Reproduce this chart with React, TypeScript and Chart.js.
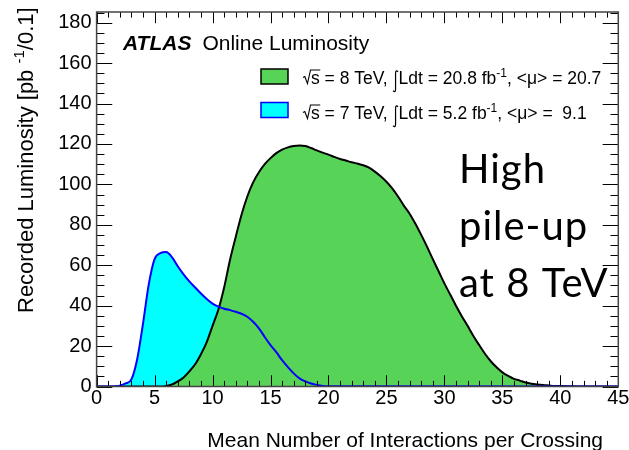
import React, { useEffect, useRef } from "react";
import { Chart, registerables } from "chart.js";

Chart.register(...registerables);

// Recorded luminosity per 0.1 bin of mean pile-up, sampled along each curve
const mu7 = [0, 1.5, 2, 2.5, 3, 3.5, 4, 4.5, 5, 5.5, 6, 6.5, 7, 7.5, 8, 8.5, 9, 9.5, 10, 10.5, 11, 11.5, 12, 12.5, 13, 13.5, 14, 14.5, 15, 15.5, 16, 16.5, 17, 17.5, 18, 18.5, 19, 19.5, 20, 45];
const lumi7 = [0, 0, 0.4, 1.5, 3.5, 13.5, 31, 50.5, 63, 66, 66.5, 64, 59.5, 55.5, 52, 49, 46, 43.3, 41, 39.5, 38.5, 37.8, 37, 36, 34.5, 32, 28.8, 24.5, 20.5, 17, 13, 9.6, 6.5, 4, 2.5, 1.5, 0.8, 0.3, 0.1, 0];

const mu8 = [0, 5.5, 6, 6.5, 7, 7.5, 8, 8.5, 9, 9.5, 10, 10.5, 11, 11.5, 12, 12.5, 13, 13.5, 14, 14.5, 15, 15.5, 16, 16.5, 17, 17.5, 18, 18.5, 19, 19.5, 20, 20.5, 21, 21.5, 22, 22.5, 23, 23.5, 24, 24.5, 25, 25.5, 26, 26.5, 27, 27.5, 28, 28.5, 29, 29.5, 30, 30.5, 31, 31.5, 32, 32.5, 33, 33.5, 34, 34.5, 35, 35.5, 36, 36.5, 37, 37.5, 38, 38.5, 39, 39.5, 40, 41, 42, 45];
const lumi8 = [0, 0, 0.3, 1, 2.5, 4.5, 7.5, 11, 16, 22, 30, 38, 49, 62.5, 74, 85, 94, 101, 106, 110, 113, 115.5, 117.2, 118.3, 119, 119.3, 119, 118, 116.8, 115.7, 114.7, 113.6, 112.6, 111.8, 111, 110.3, 109.5, 108.3, 106.3, 104, 101.3, 98, 94, 89.5, 85.5, 80.5, 75, 69.2, 63, 57, 51, 45.5, 40, 34.8, 30, 25, 20.5, 16.2, 12.5, 9.5, 7, 5.2, 3.8, 2.9, 2, 1.4, 1, 0.7, 0.5, 0.3, 0.2, 0.1, 0, 0];

// Legend entries: centre-of-mass energy, integrated luminosity, mean pile-up
const legendEnergy = ["8", "7"];
const legendIntLumi = ["20.8", "5.2"];
const legendMeanMu = ["20.7", " 9.1"];

const xRange = [0, 45];
const yRange = [0, 185.3];
const xMajorStep = 5;
const xMinorStep = 1;
const yMajorStep = 20;
const yMinorStep = 5;

const GREEN = "#57d457";
const CYAN = "#00ffff";
const BLUE = "#0000ff";
const SANS = '"Liberation Sans", Arial, Helvetica, sans-serif';

const toPoints = (xs: number[], ys: number[]) => xs.map((x, i) => ({ x, y: ys[i] }));

function drawLegendRow(ctx: CanvasRenderingContext2D, x: number, base: number, row: number) {
  ctx.save();
  ctx.fillStyle = "#000";
  ctx.strokeStyle = "#000";
  ctx.textBaseline = "alphabetic";
  ctx.textAlign = "left";
  const fs = 17.5;
  ctx.font = `${fs}px ${SANS}`;
  const sW = ctx.measureText("s").width;
  // radical sign over s
  ctx.lineWidth = 1.1;
  ctx.beginPath();
  ctx.moveTo(x, base - 6);
  ctx.lineTo(x + 1.8, base - 7);
  ctx.lineTo(x + 4.5, base);
  ctx.lineTo(x + 7.5, base - 13.5);
  ctx.lineTo(x + 8 + sW + 0.5, base - 13.5);
  ctx.stroke();
  ctx.fillText("s", x + 8, base);
  let cx = x + 8 + sW;
  const t1 = ` = ${legendEnergy[row]} TeV, `;
  ctx.fillText(t1, cx, base);
  cx += ctx.measureText(t1).width;
  // integral sign
  const top = base - 13;
  const bot = base + 8.5;
  ctx.lineWidth = 1.2;
  ctx.beginPath();
  ctx.moveTo(cx + 5.5, top + 1.2);
  ctx.quadraticCurveTo(cx + 3, top - 1.2, cx + 3, top + 3);
  ctx.lineTo(cx + 3, bot - 3);
  ctx.quadraticCurveTo(cx + 3, bot + 1.2, cx + 0.5, bot - 1.2);
  ctx.stroke();
  cx += 6;
  const t2 = `Ldt = ${legendIntLumi[row]} fb`;
  ctx.fillText(t2, cx, base);
  cx += ctx.measureText(t2).width;
  ctx.font = `12px ${SANS}`;
  ctx.fillText("-1", cx, base - 7);
  cx += ctx.measureText("-1").width;
  ctx.font = `${fs}px ${SANS}`;
  ctx.fillText(`, <\u03bc> = ${legendMeanMu[row]}`, cx, base);
  ctx.restore();
}

const rootStyle = {
  id: "rootStyle",
  afterDatasetsDraw(chart: any) {
    const { ctx, chartArea: a, scales } = chart;
    const xs = scales.x;
    const ys = scales.y;
    const w = a.right - a.left;
    const h = a.bottom - a.top;
    const xMaj = 0.03 * h;
    const yMaj = 0.03 * w;
    ctx.save();
    ctx.strokeStyle = "#000";
    ctx.lineWidth = 1;
    ctx.beginPath();
    for (let v = xRange[0]; v <= xRange[1] + 1e-9; v += xMinorStep) {
      const px = Math.round(xs.getPixelForValue(v)) + 0.5;
      const len = Math.abs(v % xMajorStep) < 1e-9 ? xMaj : xMaj / 2;
      ctx.moveTo(px, a.bottom);
      ctx.lineTo(px, a.bottom - len);
      ctx.moveTo(px, a.top);
      ctx.lineTo(px, a.top + len);
    }
    for (let v = yRange[0]; v <= yRange[1] + 1e-9; v += yMinorStep) {
      const py = Math.round(ys.getPixelForValue(v)) + 0.5;
      const len = Math.abs(v % yMajorStep) < 1e-9 ? yMaj : yMaj / 2;
      ctx.moveTo(a.left, py);
      ctx.lineTo(a.left + len, py);
      ctx.moveTo(a.right, py);
      ctx.lineTo(a.right - len, py);
    }
    ctx.stroke();
    ctx.strokeStyle = "#444";
    ctx.lineWidth = 1.5;
    ctx.strokeRect(a.left, a.top, w, h);
    ctx.restore();
  },
  afterDraw(chart: any) {
    const { ctx } = chart;
    ctx.save();
    ctx.fillStyle = "#000";
    ctx.textBaseline = "alphabetic";

    // experiment label
    ctx.textAlign = "left";
    ctx.font = `italic bold 21px ${SANS}`;
    ctx.fillText("ATLAS", 123, 50);
    const aw = ctx.measureText("ATLAS").width;
    ctx.font = `21px ${SANS}`;
    ctx.fillText("Online Luminosity", 123 + aw + 11, 50);

    // legend boxes
    ctx.lineWidth = 1.5;
    ctx.fillStyle = GREEN;
    ctx.strokeStyle = "#000";
    ctx.fillRect(261, 69, 27, 15);
    ctx.strokeRect(261, 69, 27, 15);
    ctx.fillStyle = CYAN;
    ctx.strokeStyle = BLUE;
    ctx.fillRect(261, 102.5, 27, 15);
    ctx.strokeRect(261, 102.5, 27, 15);
    drawLegendRow(ctx, 303, 83.5, 0);
    drawLegendRow(ctx, 303, 118.5, 1);

    // axis titles
    ctx.fillStyle = "#000";
    ctx.font = `21px ${SANS}`;
    ctx.textAlign = "right";
    ctx.fillText("Mean Number of Interactions per Crossing", 603, 446.5);

    ctx.save();
    ctx.translate(32.5, 313);
    ctx.rotate(-Math.PI / 2);
    ctx.textAlign = "left";
    ctx.font = `22px ${SANS}`;
    const p1 = "Recorded Luminosity [pb ";
    ctx.fillText(p1, 0, 0);
    let tx = ctx.measureText(p1).width;
    ctx.font = `15px ${SANS}`;
    ctx.fillText("-1", tx, -9);
    tx += ctx.measureText("-1").width;
    ctx.font = `22px ${SANS}`;
    ctx.fillText("/0.1]", tx, 0);
    ctx.restore();

    // annotation
    ctx.textAlign = "left";
    ctx.font = `40px Lato, "Open Sans", sans-serif`;
    (ctx as any).letterSpacing = "1px";
    ctx.fillText("High", 459, 182.7);
    ctx.fillText("pile-up", 459, 240);
    ctx.fillText("at 8 TeV", 459, 296.7);
    (ctx as any).letterSpacing = "0px";
    ctx.restore();
  },
};

export default function App() {
  const canvasRef = useRef<HTMLCanvasElement | null>(null);

  useEffect(() => {
    const canvas = canvasRef.current;
    if (!canvas) return;
    const tickFont = { family: SANS, size: 20 };
    const pts7 = toPoints(mu7, lumi7);
    const pts8 = toPoints(mu8, lumi8);
    const chart = new Chart(canvas, {
      type: "line",
      data: {
        datasets: [
          {
            label: "7 TeV outline",
            data: pts7,
            borderColor: BLUE,
            borderWidth: 2,
            fill: false,
            pointRadius: 0,
            cubicInterpolationMode: "monotone",
          },
          {
            label: "8 TeV",
            data: pts8,
            borderColor: "#000",
            backgroundColor: GREEN,
            borderWidth: 2,
            fill: "origin",
            pointRadius: 0,
            cubicInterpolationMode: "monotone",
          },
          {
            label: "7 TeV",
            data: pts7,
            borderColor: "rgba(0,0,0,0)",
            backgroundColor: CYAN,
            borderWidth: 0,
            fill: "origin",
            pointRadius: 0,
            cubicInterpolationMode: "monotone",
          },
        ],
      },
      options: {
        animation: false,
        responsive: false,
        maintainAspectRatio: false,
        layout: { padding: { left: 0, top: 12, right: 10.7, bottom: 0 } },
        plugins: { legend: { display: false }, tooltip: { enabled: false } },
        scales: {
          x: {
            type: "linear",
            min: xRange[0],
            max: xRange[1],
            grid: { display: false, drawTicks: false },
            border: { display: false },
            ticks: {
              stepSize: xMajorStep,
              font: tickFont,
              color: "#000",
              padding: 0,
              maxRotation: 0,
              autoSkip: false,
            },
            afterFit(s: any) {
              s.height = 63.5;
              s.paddingLeft = 0;
              s.paddingRight = 0;
            },
          },
          y: {
            type: "linear",
            min: yRange[0],
            max: yRange[1],
            grid: { display: false, drawTicks: false },
            border: { display: false },
            ticks: {
              stepSize: yMajorStep,
              includeBounds: false,
              font: tickFont,
              color: "#000",
              padding: 5,
            },
            afterFit(s: any) {
              s.width = 96.6;
              s.paddingTop = 0;
              s.paddingBottom = 0;
            },
          },
        },
      },
      plugins: [rootStyle],
    } as any);
    return () => chart.destroy();
  }, []);

  return (
    <div style={{ position: "fixed", left: 0, top: 0, width: 629, height: 450, background: "#fff" }}>
      <canvas ref={canvasRef} width={629} height={450} style={{ width: 629, height: 450, display: "block" }} />
    </div>
  );
}
